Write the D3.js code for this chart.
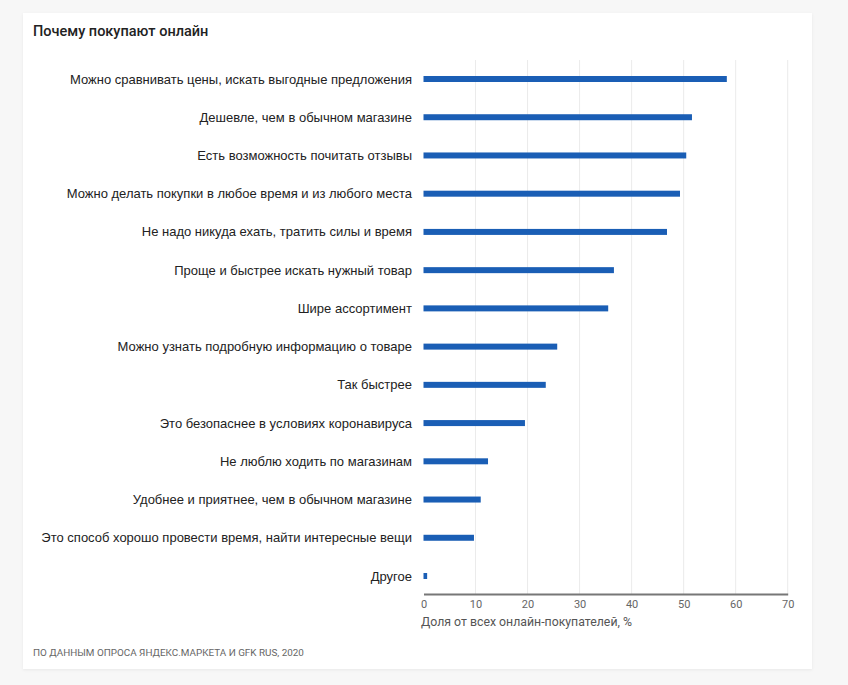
<!DOCTYPE html>
<html><head><meta charset="utf-8">
<script src="https://cdn.jsdelivr.net/npm/d3@7"></script>
<style>
body{margin:0;background:#f7f7f7;}
</style></head>
<body>
<svg id="c" width="848" height="685"></svg>
<script>
const categories = [
 "Можно сравнивать цены, искать выгодные предложения",
 "Дешевле, чем в обычном магазине",
 "Есть возможность почитать отзывы",
 "Можно делать покупки в любое время и из любого места",
 "Не надо никуда ехать, тратить силы и время",
 "Проще и быстрее искать нужный товар",
 "Шире ассортимент",
 "Можно узнать подробную информацию о товаре",
 "Так быстрее",
 "Это безопаснее в условиях коронавируса",
 "Не люблю ходить по магазинам",
 "Удобнее и приятнее, чем в обычном магазине",
 "Это способ хорошо провести время, найти интересные вещи",
 "Другое"
];
const values = [58.3, 51.6, 50.5, 49.3, 46.8, 36.6, 35.5, 25.7, 23.5, 19.5, 12.4, 11.0, 9.7, 0.7];
const tickValues = [0, 10, 20, 30, 40, 50, 60, 70];
const title = "Почему покупают онлайн";
const axisTitle = "Доля от всех онлайн-покупателей, %";
const source = "ПО ДАННЫМ ОПРОСА ЯНДЕКС.МАРКЕТА И GFK RUS, 2020";

const svg = d3.select("#c");
const defs = svg.append("defs");
const f = defs.append("filter").attr("id","sh").attr("x","-5%").attr("y","-5%").attr("width","110%").attr("height","110%");
f.append("feDropShadow").attr("dx",0).attr("dy",1).attr("stdDeviation",1.5).attr("flood-color","#000").attr("flood-opacity",0.06);

svg.append("rect").attr("x",23).attr("y",13).attr("width",789).attr("height",656).attr("fill","#fff").attr("filter","url(#sh)");

svg.append("text").attr("x",33).attr("y",36).text(title)
  .attr("font-family","Roboto, 'Open Sans', sans-serif").attr("font-size",14.5).attr("font-weight",500).attr("fill","#222");

const x = d3.scaleLinear().domain([0,70]).range([423.5,787.7]);
const y = d3.scalePoint().domain(categories).range([79,576]);

// gridlines
svg.append("g").selectAll("line").data(tickValues.slice(1)).join("line")
  .attr("x1",d=>x(d)).attr("x2",d=>x(d)).attr("y1",60).attr("y2",594)
  .attr("stroke","#ebebeb").attr("stroke-width",1);

// bars
svg.append("g").selectAll("rect").data(values).join("rect")
  .attr("x",x(0)).attr("y",(d,i)=>y(categories[i])-3)
  .attr("width",d=>x(d)-x(0)).attr("height",6).attr("fill","#1a5eb5");

// category labels
svg.append("g").selectAll("text").data(categories).join("text")
  .attr("x",412).attr("y",d=>y(d)).attr("dy","0.35em").attr("text-anchor","end")
  .attr("font-family","'Liberation Sans', Arial, sans-serif").attr("font-size",13).attr("fill","#222")
  .text(d=>d);

// axis
const ax = svg.append("g").attr("transform","translate(0,594)")
  .call(d3.axisBottom(x).tickValues(tickValues).tickSize(0).tickPadding(6).tickFormat(d3.format("d")));
ax.select(".domain").attr("stroke","#777").attr("stroke-width",2);
ax.selectAll("text").attr("font-family","Roboto, sans-serif").attr("font-size",11).attr("fill","#666");

svg.append("text").attr("x",421).attr("y",626).text(axisTitle)
  .attr("font-family","Roboto, sans-serif").attr("font-size",12.3).attr("fill","#555");

svg.append("text").attr("x",33).attr("y",656).text(source)
  .attr("font-family","Roboto, sans-serif").attr("font-size",9.9).attr("fill","#666");
</script>
</body></html>
